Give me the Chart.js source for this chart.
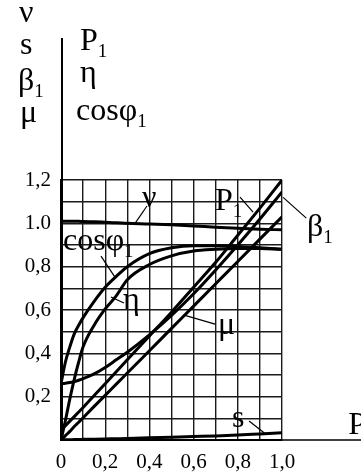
<!DOCTYPE html>
<html>
<head>
<meta charset="utf-8">
<script src="https://cdn.jsdelivr.net/npm/chart.js@4/dist/chart.umd.min.js"></script>
<style>
  html, body { margin: 0; padding: 0; background: #fff; }
  #wrap { width: 361px; height: 476px; }
</style>
</head>
<body>
<div id="wrap"><canvas id="c"></canvas></div>
<script>
// Relative output power P2 (shared abscissa of all characteristics)
const loadP2 = [0, 0.02, 0.04, 0.06, 0.08, 0.1, 0.15, 0.2, 0.25, 0.3, 0.4, 0.5, 0.6, 0.7, 0.8, 0.9, 1.0];

// Relative speed
const speedNu = [1.01, 1.01, 1.01, 1.01, 1.01, 1.008, 1.007, 1.005, 1.003, 1.0, 0.997, 0.993, 0.988, 0.982, 0.977, 0.973, 0.97];
// Slip
const slipS = [0, 0.001, 0.001, 0.002, 0.002, 0.003, 0.004, 0.005, 0.006, 0.007, 0.01, 0.013, 0.016, 0.019, 0.023, 0.028, 0.033];
// Relative stator current
const currentBeta1 = [0.26, 0.262, 0.265, 0.27, 0.276, 0.283, 0.305, 0.335, 0.37, 0.405, 0.485, 0.575, 0.675, 0.785, 0.9, 1.02, 1.145];
// Relative torque
const torqueMu = [0, 0.02, 0.04, 0.062, 0.082, 0.103, 0.155, 0.206, 0.258, 0.309, 0.412, 0.515, 0.618, 0.721, 0.824, 0.927, 1.03];
// Relative input power
const inputP1 = [0.045, 0.066, 0.087, 0.108, 0.129, 0.15, 0.205, 0.26, 0.315, 0.37, 0.48, 0.59, 0.705, 0.82, 0.945, 1.07, 1.2];
// Power factor
const cosPhi1 = [0.26, 0.36, 0.43, 0.49, 0.53, 0.565, 0.64, 0.705, 0.755, 0.8, 0.86, 0.887, 0.897, 0.897, 0.893, 0.887, 0.88];
// Efficiency
const etaEff = [0, 0.09, 0.19, 0.28, 0.36, 0.43, 0.53, 0.605, 0.665, 0.74, 0.81, 0.85, 0.872, 0.88, 0.884, 0.884, 0.88];

// Tick labels
const xTickLabels = ['0', '0,2', '0,4', '0,6', '0,8', '1,0'];
const yTickLabels = ['0,2', '0,4', '0,6', '0,8', '1.0', '1,2'];

const SERIF = "'Liberation Serif', 'Times New Roman', serif";

function pts(values) {
  return loadP2.map((x, i) => ({ x: x, y: values[i] }));
}
function curve(values) {
  return {
    data: pts(values),
    borderColor: '#000',
    borderWidth: 3,
    pointRadius: 0,
    fill: false,
    cubicInterpolationMode: 'monotone'
  };
}

// Curve captions placed in data space, each with a leader line
const captions = [
  { main: 'ν', sub: '',  at: [0.367, 1.075], lead: [[0.389, 1.08], [0.335, 1.0]] },
  { main: 'P', sub: '1', at: [0.697, 1.061], lead: [[0.81, 1.121], [0.869, 1.052]] },
  { main: 'β', sub: '1', at: [1.113, 0.941], lead: [[1.11, 1.024], [1.005, 1.12]] },
  { main: 'cosφ', sub: '1', at: [0.009, 0.877], lead: [[0.181, 0.849], [0.244, 0.752]] },
  { main: 'η', sub: '',  at: [0.281, 0.605], lead: [[0.285, 0.632], [0.226, 0.66]] },
  { main: 'μ', sub: '',  at: [0.71, 0.489], lead: [[0.697, 0.535], [0.561, 0.575]] },
  { main: 's', sub: '',  at: [0.774, 0.06], lead: [[0.851, 0.088], [0.923, 0.03]] }
];

function drawSub(ctx, main, sub, x, y, size) {
  ctx.font = size + 'px ' + SERIF;
  ctx.textAlign = 'left';
  ctx.textBaseline = 'alphabetic';
  ctx.fillText(main, x, y);
  if (sub) {
    const w = ctx.measureText(main).width;
    ctx.font = Math.round(size * 0.6) + 'px ' + SERIF;
    ctx.fillText(sub, x + w, y + size * 0.22);
  }
}

const decor = {
  id: 'decor',
  afterDraw(chart) {
    const ctx = chart.ctx;
    const xs = chart.scales.x, ys = chart.scales.y;
    const area = chart.chartArea;
    ctx.save();
    ctx.fillStyle = '#000';
    ctx.strokeStyle = '#000';

    // extended axes
    ctx.lineWidth = 2;
    ctx.beginPath();
    ctx.moveTo(area.left + 1, area.bottom);
    ctx.lineTo(area.left + 1, 38);
    ctx.stroke();
    ctx.lineWidth = 1.5;
    ctx.beginPath();
    ctx.moveTo(area.right, area.bottom);
    ctx.lineTo(chart.width, area.bottom);
    ctx.stroke();

    // axis titles
    const size = 32;
    drawSub(ctx, 'ν', '', 19, 22, size);
    drawSub(ctx, 's', '', 20, 54, size);
    drawSub(ctx, 'β', '1', 18, 90, size);
    drawSub(ctx, 'μ', '', 20, 122, size);
    drawSub(ctx, 'P', '1', 80, 50, size);
    drawSub(ctx, 'η', '', 80, 82, size);
    drawSub(ctx, 'cosφ', '1', 76, 120, size);
    drawSub(ctx, 'P', '2', xs.getPixelForValue(1.3), area.bottom - 6, size);

    // captions and leaders
    ctx.lineWidth = 1.2;
    captions.forEach(c => {
      ctx.beginPath();
      ctx.moveTo(xs.getPixelForValue(c.lead[0][0]), ys.getPixelForValue(c.lead[0][1]));
      ctx.lineTo(xs.getPixelForValue(c.lead[1][0]), ys.getPixelForValue(c.lead[1][1]));
      ctx.stroke();
      drawSub(ctx, c.main, c.sub, xs.getPixelForValue(c.at[0]), ys.getPixelForValue(c.at[1]), size);
    });
    ctx.restore();
  }
};

new Chart(document.getElementById('c'), {
  type: 'line',
  data: {
    datasets: [
      curve(speedNu),
      curve(slipS),
      curve(currentBeta1),
      curve(torqueMu),
      curve(inputP1),
      curve(cosPhi1),
      curve(etaEff)
    ]
  },
  options: {
    responsive: true,
    maintainAspectRatio: false,
    animation: false,
    layout: { padding: { top: 180, right: 79, left: 0, bottom: 0 } },
    plugins: { legend: { display: false }, tooltip: { enabled: false } },
    scales: {
      x: {
        type: 'linear',
        min: 0, max: 1.0,
        afterFit(scale) { scale.height = 36; },
        border: { display: true, color: '#000', width: 2 },
        grid: { color: '#1a1a1a', lineWidth: 1.4, drawTicks: false },
        ticks: {
          stepSize: 0.1, autoSkip: false, maxRotation: 0, padding: 10,
          color: '#000', font: { family: SERIF, size: 21 },
          callback(v) {
            const k = Math.round(v * 10);
            return k % 2 === 0 ? xTickLabels[k / 2] : '';
          }
        }
      },
      y: {
        min: 0, max: 1.2,
        afterFit(scale) { scale.width = 61; },
        border: { display: true, color: '#000', width: 2 },
        grid: { color: '#1a1a1a', lineWidth: 1.4, drawTicks: false },
        ticks: {
          stepSize: 0.1, autoSkip: false, padding: 10,
          color: '#000', font: { family: SERIF, size: 21 },
          callback(v) {
            const k = Math.round(v * 10);
            return (k % 2 === 0 && k > 0) ? yTickLabels[k / 2 - 1] : '';
          }
        }
      }
    }
  },
  plugins: [decor]
});
</script>
</body>
</html>
